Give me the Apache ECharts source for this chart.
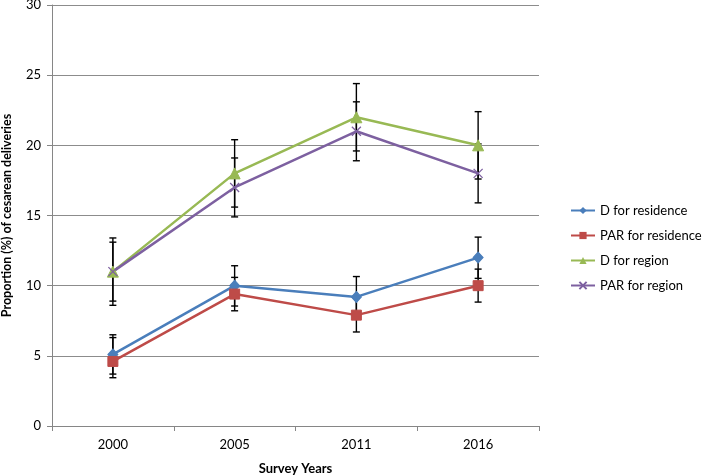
<!DOCTYPE html>
<html>
<head>
<meta charset="utf-8">
<script src="https://cdn.jsdelivr.net/npm/echarts@6/dist/echarts.min.js"></script>
<style>html,body{margin:0;padding:0;background:#fff}#c{width:709px;height:475px}</style>
</head>
<body>
<div id="c"></div>
<script>
var years = ['2000', '2005', '2011', '2016'];
var seriesNames = ['D for residence', 'PAR for residence', 'D for region', 'PAR for region'];
var dResidence = [5.1, 10.0, 9.2, 12.0];
var parResidence = [4.6, 9.4, 7.9, 10.0];
var dRegion = [11.0, 18.0, 22.0, 20.0];
var parRegion = [11.0, 17.0, 21.0, 18.0];
// error bar bounds [low, high]
var dResidenceErr = [[3.7, 6.5], [8.55, 11.42], [7.75, 10.65], [10.52, 13.46]];
var parResidenceErr = [[3.44, 6.3], [8.21, 10.59], [6.7, 9.1], [8.83, 11.18]];
var dRegionErr = [[8.6, 13.4], [15.6, 20.4], [19.6, 24.4], [17.6, 22.4]];
var parRegionErr = [[8.9, 13.1], [14.9, 19.1], [18.9, 23.1], [15.9, 20.1]];
var yTicks = { min: 0, max: 30, interval: 5 };

var colors = ['#4a7ebb', '#be4b48', '#98b954', '#7d60a0'];
var FONT = 'Lato, "Open Sans", sans-serif';

function errData(arr) {
  return arr.map(function (e, i) { return [i, e[0], e[1]]; });
}
function errSeries(arr) {
  return {
    type: 'custom',
    data: errData(arr),
    encode: { x: 0, y: [1, 2] },
    silent: true,
    z: 3,
    renderItem: function (params, api) {
      var lo = api.coord([api.value(0), api.value(1)]);
      var hi = api.coord([api.value(0), api.value(2)]);
      var w = 3.5;
      var st = { stroke: '#000', lineWidth: 1.4 };
      return {
        type: 'group',
        children: [
          { type: 'line', shape: { x1: hi[0], y1: hi[1], x2: lo[0], y2: lo[1] }, style: st },
          { type: 'line', shape: { x1: hi[0] - w, y1: hi[1], x2: hi[0] + w, y2: hi[1] }, style: st },
          { type: 'line', shape: { x1: lo[0] - w, y1: lo[1], x2: lo[0] + w, y2: lo[1] }, style: st }
        ]
      };
    }
  };
}
var xCross = 'path://M0,0 L10,10 M10,0 L0,10';
function lineSeries(name, data, color, symbol, size) {
  return {
    name: name,
    type: 'line',
    data: data,
    symbol: symbol,
    symbolSize: size,
    showAllSymbol: true,
    z: 4,
    lineStyle: { color: color, width: 2.5 },
    itemStyle: { color: color, borderColor: color }
  };
}
var lines = [
  lineSeries(seriesNames[0], dResidence, colors[0], 'diamond', [10, 11]),
  lineSeries(seriesNames[1], parResidence, colors[1], 'rect', 10),
  lineSeries(seriesNames[2], dRegion, colors[2], 'triangle', 11),
  lineSeries(seriesNames[3], parRegion, colors[3], 'emptyCircle', 0)
];
// purple X marker
lines[3].symbol = xCross;
lines[3].symbolSize = 9;
lines[3].itemStyle = { color: 'none', borderColor: colors[3], borderWidth: 1.3 };

var chart = echarts.init(document.getElementById('c'), null, { renderer: 'canvas' });
chart.setOption({
  animation: false,
  color: colors,
  textStyle: { fontFamily: FONT },
  grid: { left: 52, right: 170, top: 5, bottom: 49, containLabel: false, outerBoundsMode: 'none' },
  legend: {
    orient: 'vertical',
    left: 570,
    top: 204,
    padding: 0,
    itemGap: 12,
    itemWidth: 24,
    itemHeight: 9,
    data: seriesNames,
    textStyle: { fontSize: 13, color: '#000', fontFamily: FONT }
  },
  xAxis: {
    type: 'category',
    data: years,
    boundaryGap: true,
    name: 'Survey Years',
    nameLocation: 'middle',
    nameGap: 36,
    nameTextStyle: { fontWeight: 'bold', fontSize: 13, color: '#000', fontFamily: FONT },
    axisLine: { lineStyle: { color: '#868686', width: 1 } },
    axisTick: { show: true, interval: 0, length: 5, lineStyle: { color: '#868686' } },
    axisLabel: { color: '#000', fontSize: 13, margin: 12, fontFamily: FONT },
    splitLine: { show: false }
  },
  yAxis: {
    type: 'value',
    min: yTicks.min,
    max: yTicks.max,
    interval: yTicks.interval,
    name: 'Proportion (%) of cesarean deliveries',
    nameLocation: 'middle',
    nameGap: 39,
    nameRotate: 90,
    nameTextStyle: { fontWeight: 'bold', fontSize: 12.5, color: '#000', fontFamily: FONT },
    axisLine: { show: true, lineStyle: { color: '#868686', width: 1 } },
    axisTick: { show: true, length: 5, lineStyle: { color: '#868686' } },
    axisLabel: { color: '#000', fontSize: 13, margin: 11, fontFamily: FONT },
    splitLine: { show: true, lineStyle: { color: '#8c8c8c', width: 1 } }
  },
  series: [
    errSeries(dResidenceErr),
    errSeries(parResidenceErr),
    errSeries(dRegionErr),
    errSeries(parRegionErr)
  ].concat(lines)
});
</script>
</body>
</html>
